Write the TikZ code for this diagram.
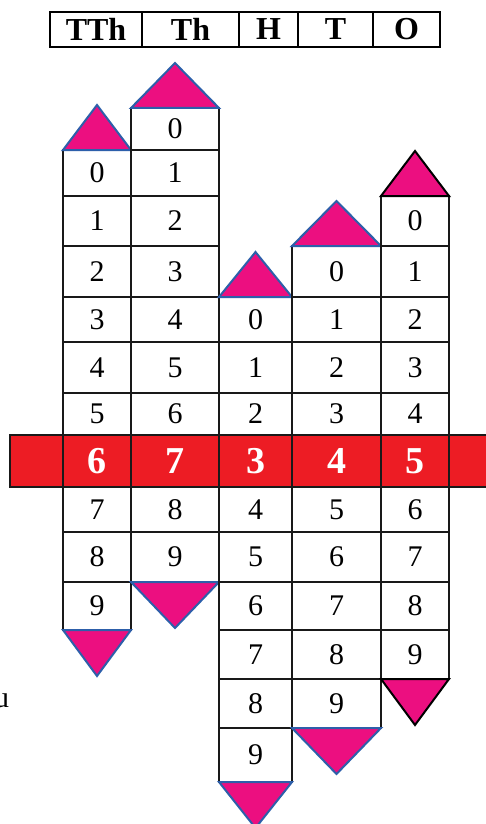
\documentclass[tikz,border=0pt]{standalone}
\usepackage{fontspec}
\setmainfont{Liberation Serif}
\definecolor{bandred}{RGB}{237,28,36}
\definecolor{tripink}{RGB}{236,15,128}
\definecolor{triblue}{RGB}{45,95,170}

\begin{document}
\begin{tikzpicture}[x=1pt,y=-1pt,
  cell/.style={rectangle,draw=black!90,line width=2.6pt,fill=white,inner sep=0pt,font=\fontsize{30}{30}\selectfont},
  hot/.style={fill=bandred,text=white,font=\fontsize{38}{38}\selectfont\bfseries},
  head/.style={rectangle,draw,line width=2.4pt,inner sep=0pt,minimum height=35pt,font=\fontsize{32}{32}\selectfont\bfseries},
  tri/.style={fill=tripink,line width=2pt,line join=miter}]

\useasboundingbox (0,0) rectangle (485,824);
\def\Y{{108,150,196,246,297,342,393,435,487,532,582,630,679,728,782}}

% header: place values
\node[head,minimum width=92pt] (hTTh) at (96,29.5) {TTh};
\node[head,minimum width=97pt] (hTh) at (190.5,29.5) {Th};
\node[head,minimum width=59pt] (hH) at (268.5,29.5) {H};
\node[head,minimum width=75pt] (hT) at (335.5,29.5) {T};
\node[head,minimum width=67pt] (hO) at (406.5,29.5) {O};

% the red reading band
\fill[bandred] (10,435) rectangle (490,487);
\draw[line width=2.6pt,draw=black!90] (490,435) -- (10,435) -- (10,487) -- (490,487);

% one strip of ten digits per place value
\foreach \col/\xl/\xr/\first/\edge in {tth/63/131/1/triblue, th/131/219/0/triblue,
    hh/219/292/4/triblue, t/292/381/3/triblue, o/381/449/2/black}{
  \pgfmathsetmacro\w{\xr-\xl}
  \pgfmathsetmacro\xm{(\xl+\xr)/2}
  \foreach \d in {0,...,9}{
    \pgfmathtruncatemacro\r{\first+\d}
    \pgfmathsetmacro\ya{\Y[\r]}
    \pgfmathsetmacro\yb{\Y[\r+1]}
    \ifnum\r=7
      \node[cell,hot,minimum width=\w pt,minimum height=\yb pt-\ya pt] (\col\d) at (\xm,{(\ya+\yb)/2}) {\d};
    \else
      \node[cell,minimum width=\w pt,minimum height=\yb pt-\ya pt] (\col\d) at (\xm,{(\ya+\yb)/2}) {\d};
    \fi
  }
  \pgfmathsetmacro\ytop{\Y[\first]}
  \pgfmathsetmacro\ybot{\Y[\first+10]}
  \draw[tri,draw=\edge] (\xl,\ytop) -- (\xm,\ytop-45) -- (\xr,\ytop) -- cycle;
  \draw[tri,draw=\edge] (\xl,\ybot) -- (\xm,\ybot+46) -- (\xr,\ybot) -- cycle;
}

\node[font=\fontsize{30}{30}\selectfont,anchor=base west,inner sep=0pt] (u) at (-6,707) {u};
\end{tikzpicture}
\end{document}
